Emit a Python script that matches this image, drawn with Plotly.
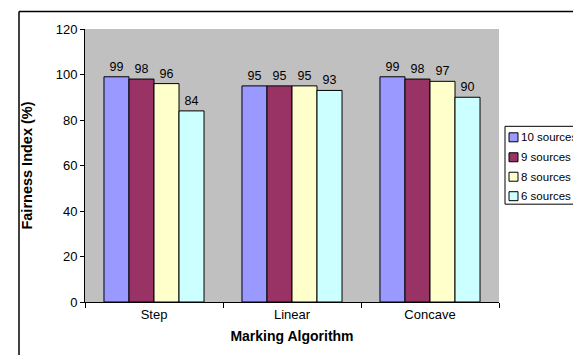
import plotly.graph_objects as go

categories = ["Step", "Linear", "Concave"]
series_names = ["10 sources", "9 sources", "8 sources", "6 sources"]
values_10 = [99, 95, 99]
values_9 = [98, 95, 98]
values_8 = [96, 95, 97]
values_6 = [84, 93, 90]
colors = ["#9999FF", "#993366", "#FFFFCC", "#CCFFFF"]

FONT = "Liberation Sans, Arial, sans-serif"

fig = go.Figure()
for name, vals, col in zip(series_names, [values_10, values_9, values_8, values_6], colors):
    fig.add_trace(go.Bar(
        name=name, x=categories, y=vals,
        marker=dict(color=col, line=dict(color="black", width=1)),
        text=[str(v) for v in vals], textposition="outside",
        textfont=dict(family=FONT, size=12.5, color="black"),
        cliponaxis=False, showlegend=False,
    ))

L, R, T, B = 77, 90, 20.5, 61
W, H = 581, 355
pw, ph = W - L - R, H - T - B

def px(x):
    return (x - L) / pw

def py(y):
    return (H - B - y) / ph

fig.update_layout(
    width=W, height=H,
    margin=dict(l=L, r=R, t=T, b=B),
    paper_bgcolor="white", plot_bgcolor="#C0C0C0",
    barmode="group", bargap=0.275, bargroupgap=0,
    font=dict(family=FONT, size=13, color="black"),
    showlegend=False,
    xaxis=dict(
        title=dict(text="<b>Marking Algorithm</b>", font=dict(family=FONT, size=14), standoff=10),
        showline=True, linecolor="black", linewidth=1,
        ticks="outside", tickson="boundaries", ticklen=5, tickcolor="black",
        tickfont=dict(family=FONT, size=13),
        showgrid=False,
    ),
    yaxis=dict(
        title=dict(text="<b>Fairness Index (%)</b>", font=dict(family=FONT, size=14.5), standoff=19),
        range=[0, 120], dtick=20,
        showline=True, linecolor="black", linewidth=1,
        ticks="outside", ticklen=4, tickcolor="black",
        tickfont=dict(family=FONT, size=13),
        showgrid=False, zeroline=False,
    ),
)

# outer chart border
fig.add_shape(type="line", xref="paper", yref="paper",
              x0=px(11), x1=px(590), y0=py(3), y1=py(3),
              line=dict(color="black", width=1.5))
fig.add_shape(type="line", xref="paper", yref="paper",
              x0=px(11), x1=px(11), y0=py(3), y1=py(353),
              line=dict(color="black", width=1.5))
fig.add_shape(type="line", xref="paper", yref="paper",
              x0=px(11), x1=px(590), y0=py(353.5), y1=py(353.5),
              line=dict(color="#DDDDDD", width=1.5))

# legend box (drawn manually, extends past right edge like the original)
fig.add_shape(type="rect", xref="paper", yref="paper",
              x0=px(497), x1=px(600), y0=py(118), y1=py(196),
              line=dict(color="black", width=1), fillcolor="white")
row_y = [129, 149, 168.5, 188]
for name, col, ry in zip(series_names, colors, row_y):
    fig.add_shape(type="rect", xref="paper", yref="paper",
                  x0=px(501), x1=px(510), y0=py(ry - 4.5), y1=py(ry + 4.5),
                  line=dict(color="black", width=1), fillcolor=col)
    fig.add_annotation(xref="paper", yref="paper", x=px(511.5), y=py(ry),
                       xanchor="left", yanchor="middle", text=name, showarrow=False,
                       borderpad=0,
                       font=dict(family=FONT, size=11.5, color="black"))

fig.write_html("out.html")
